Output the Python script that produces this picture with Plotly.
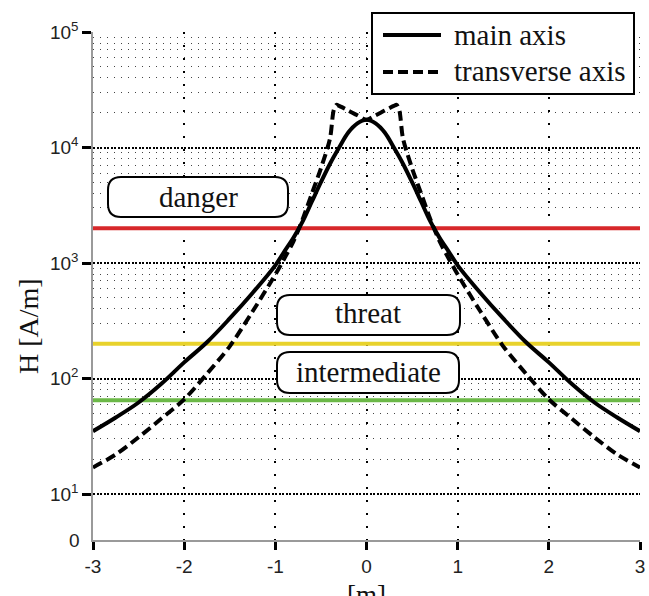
import plotly.graph_objects as go

# ---------------- data ----------------
x_main = [-3, -2.75, -2.5, -2.25, -2, -1.75, -1.5, -1.25, -1, -0.9, -0.8, -0.7, -0.6, -0.5, -0.4, -0.3, -0.2, -0.1,
          0, 0.1, 0.2, 0.3, 0.4, 0.5, 0.6, 0.7, 0.8, 0.9, 1, 1.25, 1.5, 1.75, 2, 2.25, 2.5, 2.75, 3]
h_main = [35, 46, 62, 90, 138, 206, 331, 550, 955, 1260, 1660, 2290, 3390, 5010, 7240, 10000, 13500, 16200,
          17400, 16200, 13500, 10000, 7240, 5010, 3390, 2290, 1660, 1260, 955, 550, 331, 206, 138, 90, 62, 46, 35]

x_trans = [-3, -2.75, -2.5, -2.25, -2, -1.75, -1.5, -1.25, -1, -0.9, -0.8, -0.7, -0.6, -0.5, -0.4, -0.36, -0.33, -0.3,
           -0.2, -0.1, 0, 0.1, 0.2, 0.3, 0.33, 0.36, 0.4, 0.5, 0.6, 0.7, 0.8, 0.9, 1, 1.25, 1.5, 1.75, 2, 2.25, 2.5,
           2.75, 3]
h_trans = [17, 22, 31, 45, 66, 110, 190, 380, 795, 1100, 1550, 2400, 3980, 6610, 12000, 21000, 23400, 22900,
           20900, 19000, 17400, 19000, 20900, 22900, 23400, 21000, 12000, 6610, 3980, 2400, 1550, 1100, 795, 380,
           190, 110, 66, 45, 31, 22, 17]

threshold_names = ["danger", "threat", "intermediate"]
threshold_levels = [2000, 200, 65]
threshold_colors = ["#d7282b", "#e8d22c", "#6cb848"]
x_span = [-3, 3]

x_ticks = [-3, -2, -1, 0, 1, 2, 3]
y_ticks = [10, 100, 1000, 10000, 100000]
y_ticktext = ["10<sup>1</sup>", "10<sup>2</sup>", "10<sup>3</sup>", "10<sup>4</sup>", "10<sup>5</sup>"]
y_minor = [m * d for d in (10, 100, 1000, 10000) for m in range(2, 10)]

series_names = ["main axis", "transverse axis"]

# ---------------- layout geometry ----------------
OFF = 0  # body margin removed in the page (see post_script)
W, H = 649, 596
L, T = 93, 32
PW, PH = 547, 508
R, B = W - L - PW, H - T - PH
SERIF = "Liberation Serif, Times New Roman, serif"
SANS = "Liberation Sans, Arial, sans-serif"


def px(xp):
    # window pixel x -> paper x
    return (xp - OFF - L) / PW


def py(yp):
    # window pixel y -> paper y
    return (T + PH - (yp - OFF)) / PH


def rrect(x0, y0, x1, y1, r):
    X0, X1 = px(x0), px(x1)
    Y0, Y1 = py(y0), py(y1)
    rx, ry = r / PW, r / PH
    return (f"M {X0 + rx} {Y0} L {X1 - rx} {Y0} Q {X1} {Y0} {X1} {Y0 - ry} "
            f"L {X1} {Y1 + ry} Q {X1} {Y1} {X1 - rx} {Y1} "
            f"L {X0 + rx} {Y1} Q {X0} {Y1} {X0} {Y1 + ry} "
            f"L {X0} {Y0 - ry} Q {X0} {Y0} {X0 + rx} {Y0} Z")


fig = go.Figure()

for lvl, col in zip(threshold_levels, threshold_colors):
    fig.add_trace(go.Scatter(x=x_span, y=[lvl, lvl], mode="lines",
                             line=dict(color=col, width=4), showlegend=False, hoverinfo="skip"))

fig.add_trace(go.Scatter(x=x_trans, y=h_trans, mode="lines", name=series_names[1],
                         line=dict(color="black", width=4, dash="10px,5px", shape="spline", smoothing=0.8),
                         showlegend=False))
fig.add_trace(go.Scatter(x=x_main, y=h_main, mode="lines", name=series_names[0],
                         line=dict(color="black", width=4, shape="spline", smoothing=1.0),
                         showlegend=False))

shapes = []
annotations = []

# label boxes (window pixel coordinates)
boxes = [(108, 177, 288, 217, "danger", 198, 197),
         (277, 295, 460, 335, "threat", 368, 313),
         (277, 352, 459, 393, "intermediate", 368, 372)]
for x0, y0, x1, y1, txt, cx, cy in boxes:
    shapes.append(dict(type="path", xref="paper", yref="paper", path=rrect(x0, y0, x1, y1, 13),
                       line=dict(color="black", width=2), fillcolor="white", layer="above"))
    annotations.append(dict(xref="paper", yref="paper", x=px(cx), y=py(cy), text=txt, showarrow=False,
                            font=dict(family=SERIF, size=29, color="#111"), xanchor="center", yanchor="middle"))

# legend
shapes.append(dict(type="rect", xref="paper", yref="paper", x0=px(372), x1=px(634), y0=py(94), y1=py(13),
                   line=dict(color="black", width=2), fillcolor="white", layer="above"))
shapes.append(dict(type="line", xref="paper", yref="paper", x0=px(383), x1=px(441), y0=py(35), y1=py(35),
                   line=dict(color="black", width=4), layer="above"))
shapes.append(dict(type="line", xref="paper", yref="paper", x0=px(383), x1=px(441), y0=py(72), y1=py(72),
                   line=dict(color="black", width=4, dash="10px,5px"), layer="above"))
for txt, cy in zip(series_names, [35, 71]):
    annotations.append(dict(xref="paper", yref="paper", x=px(452), y=py(cy), text=txt, showarrow=False,
                            font=dict(family=SERIF, size=29, color="#111"), xanchor="left", yanchor="middle"))

# bottom "0" label on y axis
annotations.append(dict(xref="paper", yref="paper", x=px(82), y=0, text="0", showarrow=False,
                        font=dict(family=SANS, size=19, color="#222"), xanchor="right", yanchor="middle"))

# axis titles
annotations.append(dict(xref="paper", yref="paper", x=px(28), y=py(326), text="H [A/m]", showarrow=False,
                        textangle=-90, font=dict(family=SERIF, size=28, color="#111"),
                        xanchor="center", yanchor="middle"))
annotations.append(dict(xref="paper", yref="paper", x=px(366), y=py(578), text="[m]", showarrow=False,
                        font=dict(family=SERIF, size=27, color="#111"), xanchor="center", yanchor="top"))

fig.update_layout(
    width=W, height=H,
    margin=dict(l=L, r=R, t=T, b=B, autoexpand=False),
    paper_bgcolor="white", plot_bgcolor="white",
    showlegend=False,
    shapes=shapes, annotations=annotations,
)

fig.update_xaxes(
    range=[-3, 3], tickvals=x_ticks, ticktext=[str(v) for v in x_ticks], automargin=False,
    showgrid=True, gridcolor="black", gridwidth=2, griddash="2px,11px",
    zeroline=False, showline=True, linecolor="#9a9a9a", linewidth=1.5,
    ticks="outside", ticklen=8, tickwidth=2.5, tickcolor="black",
    tickfont=dict(family=SANS, size=19, color="#222"),
)
fig.update_yaxes(
    type="log", range=[0.602, 5], tickvals=y_ticks, ticktext=y_ticktext, automargin=False,
    showgrid=True, gridcolor="black", gridwidth=2, griddash="2px,1.5px",
    minor=dict(tickvals=y_minor, showgrid=True, gridcolor="#444", gridwidth=1, griddash="1px,6px", ticklen=0),
    zeroline=False, showline=True, linecolor="#9a9a9a", linewidth=1.5,
    ticks="outside", ticklen=9, tickwidth=2.5, tickcolor="black",
    tickfont=dict(family=SANS, size=19, color="#222"),
)

fig.write_html("out.html", config={"displayModeBar": False},
               post_script="document.body.style.margin='0px';document.body.style.overflow='hidden';")
